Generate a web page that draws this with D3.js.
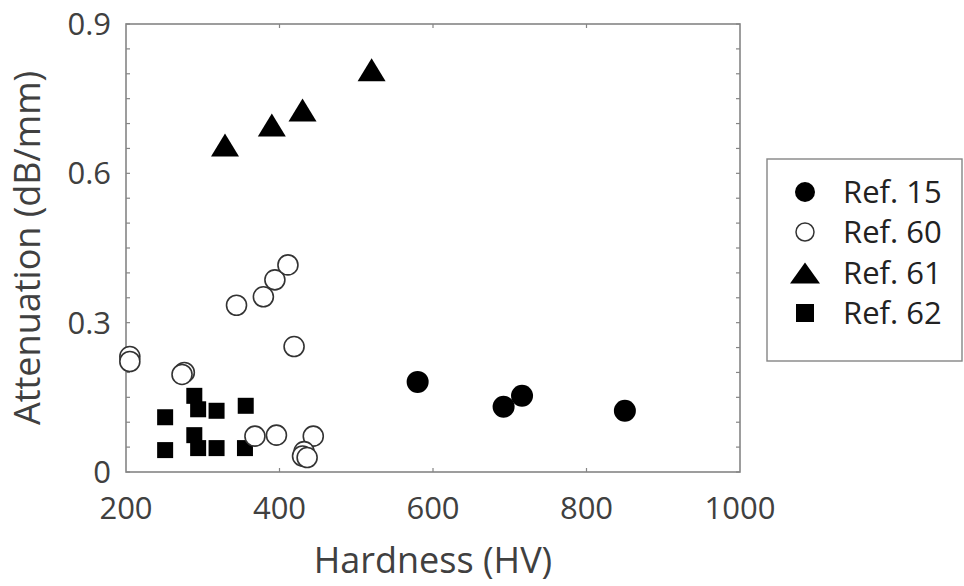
<!DOCTYPE html>
<html><head><meta charset="utf-8">
<script src="https://cdn.jsdelivr.net/npm/d3@7"></script>
<style>body{margin:0;background:#fff}svg{display:block}text{font-family:"Open Sans",sans-serif}</style>
</head><body>
<svg id="c" width="964" height="586"></svg>
<script>
// Data
const seriesNames = ["Ref. 15", "Ref. 60", "Ref. 61", "Ref. 62"];
const ref15Hardness = [580, 692, 716, 850];
const ref15Atten = [0.181, 0.131, 0.153, 0.123];
const ref60Hardness = [205, 205, 276, 273, 344, 379, 394, 411, 419, 368, 396, 444, 432, 430, 436];
const ref60Atten = [0.232, 0.222, 0.200, 0.196, 0.335, 0.352, 0.386, 0.416, 0.252, 0.072, 0.074, 0.072, 0.041, 0.032, 0.029];
const ref61Hardness = [329, 390, 430, 520];
const ref61Atten = [0.657, 0.697, 0.727, 0.808];
const ref62Hardness = [251, 251, 289, 294, 318, 356, 289, 294, 318, 355];
const ref62Atten = [0.110, 0.044, 0.153, 0.126, 0.123, 0.133, 0.074, 0.048, 0.048, 0.048];
const xTicks = [200, 400, 600, 800, 1000];
const yTicks = [0, 0.3, 0.6, 0.9];
const xLabel = "Hardness (HV)";
const yLabel = "Attenuation (dB/mm)";

const svg = d3.select("#c");
const L = 126, R = 740, T = 24, B = 472;
const x = d3.scaleLinear().domain([200, 1000]).range([L, R]);
const y = d3.scaleLinear().domain([0, 0.9]).range([B, T]);
const axisCol = "#858585", textCol = "#404040";

const zip = (a, b) => a.map((v, i) => [v, b[i]]);

// Ticks (inward) on all sides
const g = svg.append("g");
const yMinor = d3.range(0, 0.9001, 0.05);
const xMinor = [400, 600, 800];
const tl = 4;
yMinor.forEach(v => {
  g.append("line").attr("x1", L).attr("x2", L + tl).attr("y1", y(v)).attr("y2", y(v)).attr("stroke", axisCol).attr("stroke-width", 1.2);
  g.append("line").attr("x1", R).attr("x2", R - tl).attr("y1", y(v)).attr("y2", y(v)).attr("stroke", axisCol).attr("stroke-width", 1.2);
});
xMinor.forEach(v => {
  g.append("line").attr("x1", x(v)).attr("x2", x(v)).attr("y1", B).attr("y2", B - tl).attr("stroke", axisCol).attr("stroke-width", 1.2);
  g.append("line").attr("x1", x(v)).attr("x2", x(v)).attr("y1", T).attr("y2", T + tl).attr("stroke", axisCol).attr("stroke-width", 1.2);
});
g.append("rect").attr("x", L).attr("y", T).attr("width", R - L).attr("height", B - T)
  .attr("fill", "none").attr("stroke", axisCol).attr("stroke-width", 1.6);

// Tick labels
g.selectAll(".xt").data(xTicks).enter().append("text")
  .attr("x", d => x(d)).attr("y", 519).attr("text-anchor", "middle")
  .attr("font-size", 31).attr("fill", textCol).text(d => d);
g.selectAll(".yt").data(yTicks).enter().append("text")
  .attr("x", 111).attr("y", d => y(d) + 11).attr("text-anchor", "end")
  .attr("font-size", 31).attr("fill", textCol).text(d => d === 0 ? "0" : d3.format(".1f")(d));

// Axis labels
svg.append("text").attr("x", (L + R) / 2).attr("y", 573).attr("text-anchor", "middle")
  .attr("font-size", 36).attr("fill", textCol).text(xLabel);
svg.append("text").attr("transform", `translate(40,${(T + B) / 2}) rotate(-90)`).attr("text-anchor", "middle")
  .attr("font-size", 36).attr("fill", textCol).text(yLabel);

// Marker shapes
const tri = (w, h) => `M0,${-h/2}L${w/2},${h/2}L${-w/2},${h/2}Z`;
const plot = svg.append("g");

plot.selectAll(".r15").data(zip(ref15Hardness, ref15Atten)).enter().append("circle")
  .attr("cx", d => x(d[0])).attr("cy", d => y(d[1])).attr("r", 11).attr("fill", "#000");
plot.selectAll(".r61").data(zip(ref61Hardness, ref61Atten)).enter().append("path")
  .attr("transform", d => `translate(${x(d[0])},${y(d[1])})`).attr("d", tri(28, 23)).attr("fill", "#000");
plot.selectAll(".r62").data(zip(ref62Hardness, ref62Atten)).enter().append("rect")
  .attr("x", d => x(d[0]) - 8).attr("y", d => y(d[1]) - 8).attr("width", 16).attr("height", 16).attr("fill", "#000");
plot.selectAll(".r60").data(zip(ref60Hardness, ref60Atten)).enter().append("circle")
  .attr("cx", d => x(d[0])).attr("cy", d => y(d[1])).attr("r", 10).attr("fill", "#fff")
  .attr("stroke", "#333").attr("stroke-width", 1.6);

// Legend
const lg = svg.append("g");
lg.append("rect").attr("x", 767).attr("y", 159).attr("width", 195).attr("height", 202)
  .attr("fill", "#fff").attr("stroke", axisCol).attr("stroke-width", 1.4);
const rowsY = [192, 232, 273, 313];
const mx = 805;
lg.append("circle").attr("cx", mx).attr("cy", rowsY[0]).attr("r", 10).attr("fill", "#000");
lg.append("circle").attr("cx", mx).attr("cy", rowsY[1]).attr("r", 9).attr("fill", "#fff").attr("stroke", "#333").attr("stroke-width", 1.5);
lg.append("path").attr("transform", `translate(${mx},${rowsY[2]})`).attr("d", tri(30, 21)).attr("fill", "#000");
lg.append("rect").attr("x", mx - 9).attr("y", rowsY[3] - 9).attr("width", 18).attr("height", 18).attr("fill", "#000");
lg.selectAll(".lt").data(seriesNames).enter().append("text")
  .attr("x", 843).attr("y", (d, i) => rowsY[i] + 11).attr("font-size", 31).attr("fill", "#222").text(d => d);
</script>
</body></html>
